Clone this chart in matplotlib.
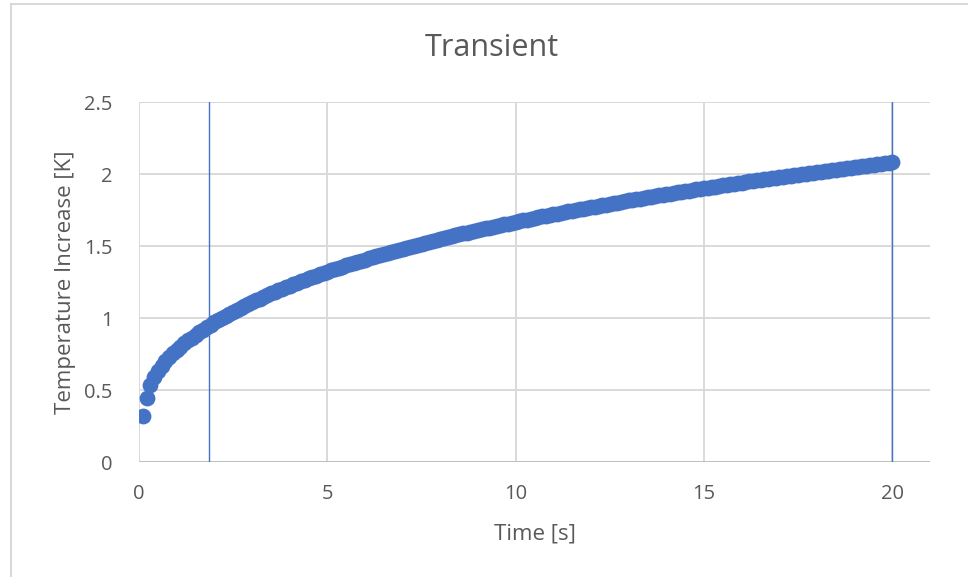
import numpy as np
import matplotlib.pyplot as plt
from matplotlib.patches import Rectangle

# Transient temperature rise, sampled every 0.1 s
time_s = np.round(np.arange(1, 201) * 0.1, 1)
temp_rise = [
    0.320, 0.445, 0.537, 0.587, 0.629, 0.666, 0.698, 0.728, 0.755, 0.780,
    0.802, 0.823, 0.844, 0.863, 0.882, 0.901, 0.919, 0.936, 0.953, 0.969,
    0.985, 1.000, 1.015, 1.030, 1.044, 1.058, 1.072, 1.085, 1.098, 1.111,
    1.123, 1.135, 1.147, 1.159, 1.171, 1.182, 1.193, 1.204, 1.215, 1.225,
    1.236, 1.246, 1.256, 1.266, 1.276, 1.285, 1.295, 1.304, 1.313, 1.322,
    1.331, 1.340, 1.349, 1.357, 1.366, 1.374, 1.382, 1.390, 1.398, 1.406,
    1.414, 1.422, 1.430, 1.437, 1.445, 1.452, 1.460, 1.467, 1.474, 1.481,
    1.488, 1.495, 1.502, 1.509, 1.516, 1.523, 1.529, 1.536, 1.542, 1.549,
    1.555, 1.562, 1.568, 1.574, 1.580, 1.587, 1.593, 1.599, 1.605, 1.611,
    1.617, 1.622, 1.628, 1.634, 1.640, 1.645, 1.651, 1.656, 1.662, 1.667,
    1.673, 1.678, 1.684, 1.689, 1.694, 1.700, 1.705, 1.710, 1.715, 1.720,
    1.725, 1.730, 1.735, 1.740, 1.745, 1.750, 1.755, 1.760, 1.765, 1.769,
    1.774, 1.779, 1.784, 1.788, 1.793, 1.798, 1.802, 1.807, 1.811, 1.816,
    1.820, 1.825, 1.829, 1.834, 1.838, 1.842, 1.847, 1.851, 1.855, 1.859,
    1.864, 1.868, 1.872, 1.876, 1.880, 1.884, 1.888, 1.893, 1.897, 1.901,
    1.905, 1.909, 1.913, 1.917, 1.921, 1.924, 1.928, 1.932, 1.936, 1.940,
    1.944, 1.948, 1.951, 1.955, 1.959, 1.963, 1.966, 1.970, 1.974, 1.977,
    1.981, 1.985, 1.988, 1.992, 1.995, 1.999, 2.003, 2.006, 2.010, 2.013,
    2.017, 2.020, 2.023, 2.027, 2.030, 2.034, 2.037, 2.041, 2.044, 2.047,
    2.051, 2.054, 2.057, 2.061, 2.064, 2.067, 2.070, 2.074, 2.077, 2.080,
]
marker_lines = [1.86, 20]
x_ticks = [0, 5, 10, 15, 20]
y_ticks = [0, 0.5, 1, 1.5, 2, 2.5]
y_tick_labels = ["0", "0.5", "1", "1.5", "2", "2.5"]

blue = "#4472C4"
text_col = "#595959"
grid_col = "#d9d9d9"

plt.rcParams['font.family'] = ['Open Sans', 'DejaVu Sans']

fig = plt.figure(figsize=(9.68, 5.77), dpi=100)
fig.patches.append(Rectangle((11 / 968, -0.1), 1.2, 1.1 - 4 / 577, transform=fig.transFigure,
                             fill=False, edgecolor=grid_col, linewidth=1.5))

ax = fig.add_axes([139 / 968, 115 / 577, 791 / 968, 360 / 577])
ax.set_xlim(0, 21)
ax.set_ylim(0, 2.5)

for x in x_ticks:
    ax.axvline(x, color=grid_col, linewidth=1.4, zorder=0)
for y in y_ticks:
    ax.axhline(y, color=grid_col, linewidth=1.4, zorder=0)
ax.axhline(0, color="#bfbfbf", linewidth=1.4, zorder=1)

for x in marker_lines:
    ax.axvline(x, color=blue, linewidth=1.0, zorder=2)

ax.scatter(time_s, temp_rise, s=130, color=blue, linewidths=0, zorder=3)

for s in ax.spines.values():
    s.set_visible(False)

ax.set_xticks(x_ticks)
ax.set_yticks(y_ticks)
ax.set_yticklabels(y_tick_labels)
ax.tick_params(length=0, labelsize=14.5, colors=text_col)
ax.tick_params(axis='x', pad=16)
ax.tick_params(axis='y', pad=19)

ax.set_xlabel("Time [s]", fontsize=16, color=text_col, labelpad=14)
ax.set_ylabel("Temperature Increase [K]", fontsize=16, color=text_col, labelpad=6)
fig.text(492 / 968, 1 - 48 / 577, "Transient", fontsize=22, color=text_col,
         ha="center", va="center")

fig.savefig("out.png", dpi=100)
